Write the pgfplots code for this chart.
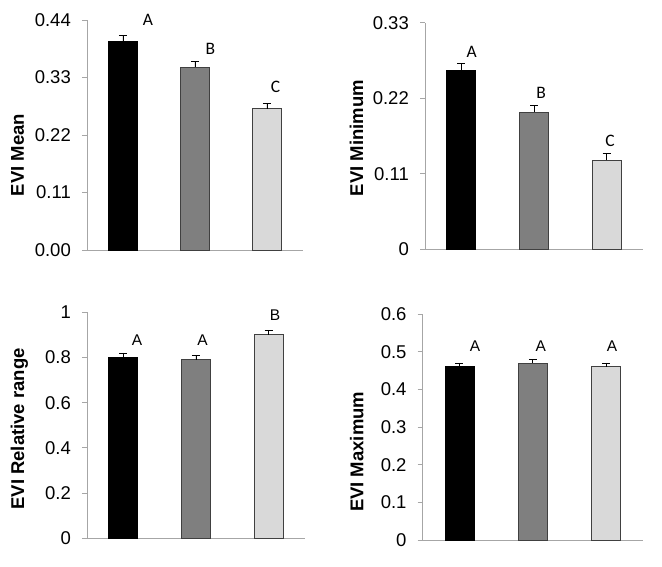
\documentclass[border=0pt]{standalone}
\usepackage{pgfplots}
\pgfplotsset{compat=1.18}
\usepackage{fontspec}
\setmainfont{Liberation Sans}
\newfontfamily\calfont{Carlito}
\definecolor{bartwo}{HTML}{7F7F7F}
\definecolor{barthree}{HTML}{D9D9D9}
\definecolor{axgray}{HTML}{A6A6A6}
\definecolor{edgegray}{HTML}{404040}
\pgfplotsset{
  panel/.style={
    scale only axis,
    xmin=0.5, xmax=3.5, ymin=0,
    axis x line*=bottom, axis y line*=left,
    axis line style={axgray, line width=0.8pt, -},
    xtick=\empty,
    tick align=outside,
    major tick length=5pt,
    ytick style={axgray, line width=0.8pt},
    /pgf/number format/assume math mode=true,
    tick label style={font=\fontsize{18.5}{20}\selectfont, text=black},
    yticklabel style={inner sep=1.5pt, xshift=-9.5pt},
    clip=false,
  },
  barstyle/.style={ybar, bar shift=0pt, bar width=29pt, line width=0.8pt,
    error bars/y dir=plus, error bars/y explicit,
    error bars/error bar style={black, line width=0.8pt},
    error bars/error mark options={rotate=90, mark size=4pt, black, line width=0.8pt}},
  ylab/.style={ylabel style={at={(axis description cs:#1)}, anchor=center,
     font=\bfseries\fontsize{18.5}{20}\selectfont}},
}
\begin{document}
\begin{tikzpicture}
\useasboundingbox (0,0) rectangle (662pt,567pt);
% Panel 1: EVI Mean
\begin{axis}[panel, at={(87pt,317pt)}, anchor=south west, width=216pt, height=230pt,
  ymax=0.44, ytick={0,0.11,0.22,0.33,0.44},
  yticklabels={0.00,0.11,0.22,0.33,0.44},
  ylabel={EVI Mean}, ylab={-0.3218,0.413}]
\addplot[barstyle, fill=black, draw=black] coordinates {(1,0.40) +- (0,0.01)};
\addplot[barstyle, fill=bartwo, draw=edgegray] coordinates {(2,0.35) +- (0,0.01)};
\addplot[barstyle, fill=barthree, draw=edgegray] coordinates {(3,0.27) +- (0,0.01)};
\node[font=\calfont\fontsize{17.5}{18}\selectfont] at (axis cs:1.347,0.4394) {A};
\node[font=\calfont\fontsize{17.5}{18}\selectfont] at (axis cs:2.215,0.3843) {B};
\node[font=\calfont\fontsize{17.5}{18}\selectfont] at (axis cs:3.118,0.3125) {C};
\end{axis}
% Panel 2: EVI Minimum
\begin{axis}[panel, at={(425pt,317.7pt)}, anchor=south west, width=218pt, height=226.6pt,
  ymax=0.33, ytick={0,0.11,0.22,0.33},
  yticklabels={0,0.11,0.22,0.33},
  ylabel={EVI Minimum}, ylab={-0.3142,0.49}]
\addplot[barstyle, fill=black, draw=black] coordinates {(1,0.26) +- (0,0.01)};
\addplot[barstyle, fill=bartwo, draw=edgegray] coordinates {(2,0.20) +- (0,0.01)};
\addplot[barstyle, fill=barthree, draw=edgegray] coordinates {(3,0.13) +- (0,0.01)};
\node[font=\calfont\fontsize{17.5}{18}\selectfont] at (axis cs:1.142,0.2869) {A};
\node[font=\calfont\fontsize{17.5}{18}\selectfont] at (axis cs:2.097,0.2274) {B};
\node[font=\calfont\fontsize{17.5}{18}\selectfont] at (axis cs:3.046,0.158) {C};
\end{axis}
% Panel 3: EVI Relative range
\begin{axis}[panel, at={(87pt,28.7pt)}, anchor=south west, width=218pt, height=226pt,
  ymax=1, ytick={0,0.2,0.4,0.6,0.8,1},
  yticklabels={0,0.2,0.4,0.6,0.8,1},
  ylabel={EVI Relative range}, ylab={-0.3096,0.484}]
\addplot[barstyle, fill=black, draw=black] coordinates {(1,0.80) +- (0,0.02)};
\addplot[barstyle, fill=bartwo, draw=edgegray] coordinates {(2,0.79) +- (0,0.02)};
\addplot[barstyle, fill=barthree, draw=edgegray] coordinates {(3,0.90) +- (0,0.02)};
\node[font=\fontsize{15.5}{16}\selectfont] at (axis cs:1.188,0.876) {A};
\node[font=\fontsize{15.5}{16}\selectfont] at (axis cs:2.089,0.876) {A};
\node[font=\fontsize{15.5}{16}\selectfont] at (axis cs:3.087,0.989) {B};
\end{axis}
% Panel 4: EVI Maximum
\begin{axis}[panel, at={(422.7pt,27pt)}, anchor=south west, width=220.3pt, height=226pt,
  ymax=0.6, ytick={0,0.1,0.2,0.3,0.4,0.5,0.6},
  yticklabels={0,0.1,0.2,0.3,0.4,0.5,0.6},
  ylabel={EVI Maximum}, ylab={-0.2996,0.39}]
\addplot[barstyle, fill=black, draw=black] coordinates {(1,0.46) +- (0,0.01)};
\addplot[barstyle, fill=bartwo, draw=edgegray] coordinates {(2,0.47) +- (0,0.01)};
\addplot[barstyle, fill=barthree, draw=edgegray] coordinates {(3,0.46) +- (0,0.01)};
\node[font=\fontsize{15.5}{16}\selectfont] at (axis cs:1.212,0.514) {A};
\node[font=\fontsize{15.5}{16}\selectfont] at (axis cs:2.108,0.514) {A};
\node[font=\fontsize{15.5}{16}\selectfont] at (axis cs:3.079,0.514) {A};
\end{axis}
\end{tikzpicture}
\end{document}
